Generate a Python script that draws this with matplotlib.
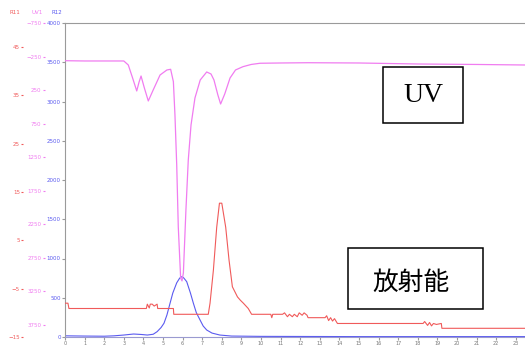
import matplotlib.pyplot as plt
from matplotlib.patches import Rectangle

# UV1 trace (magenta axis, inverted)
uv_t = [0, 1, 2, 3.0, 3.23, 3.45, 3.66, 3.78, 3.88, 4.05, 4.25, 4.5, 4.85, 5.2, 5.39,
        5.53, 5.61, 5.70, 5.78, 5.9, 5.97, 6.04, 6.17, 6.29, 6.43, 6.63, 6.9, 7.23,
        7.45, 7.6, 7.8, 7.94, 8.15, 8.42, 8.7, 9.08, 9.5, 9.95, 11, 12.4, 15, 18, 21, 23.5]
uv_v = [-188, -184, -184, -184, -124, 70, 263, 129, 40, 219, 412, 248, 25, -50, -60,
        125, 621, 1366, 2290, 3050, 3094, 2975, 2036, 1291, 770, 368, 99, -20,
        10, 99, 323, 457, 308, 70, -50, -99, -132, -150, -154, -158, -154, -139, -132, -124]

# R12 trace (blue axis)
r12_t = [0, 1, 2, 2.5, 3.0, 3.5, 3.9, 4.2, 4.5, 4.7, 4.9, 5.05, 5.2, 5.36, 5.5, 5.7,
         5.85, 5.95, 6.05, 6.21, 6.4, 6.55, 6.7, 6.89, 7.05, 7.23, 7.5, 7.9, 8.5, 10, 15, 23.5]
r12_v = [15, 12, 10, 15, 25, 38, 32, 25, 35, 68, 120, 175, 280, 430, 560, 690,
         750, 768, 755, 705, 560, 430, 310, 217, 140, 89, 50, 25, 12, 8, 5, 5]

# R11 trace (red axis, radioactivity)
r11_t = [0, 0.15, 0.2, 4.15, 4.2, 4.3, 4.35, 4.45, 4.55, 4.7, 4.73, 5.53, 5.55, 7.31,
         7.4, 7.57, 7.74, 7.88, 8.0, 8.2, 8.37, 8.54, 8.8, 8.95, 9.1, 9.35, 9.52, 10.5,
         10.55, 10.6, 11.1, 11.2, 11.35, 11.45, 11.6, 11.7, 11.85, 11.95, 12.1, 12.2,
         12.35, 12.4, 13.27, 13.35, 13.45, 13.55, 13.65, 13.75, 13.9, 18.27, 18.35,
         18.5, 18.6, 18.7, 18.8, 18.95, 19.2, 19.23, 23.5]
r11_v = [-8.0, -8.0, -9.1, -9.1, -8.2, -9.0, -8.2, -8.2, -8.6, -8.2, -9.1, -9.1, -10.3, -10.3,
         -8.0, -1.2, 7.7, 12.7, 12.7, 7.7, 0.9, -4.6, -6.7, -7.4, -8.0, -9.1, -10.3, -10.3,
         -11.0, -10.3, -10.3, -10.0, -10.8, -10.3, -10.8, -10.3, -10.8, -10.0, -10.5, -10.0,
         -10.5, -11.0, -11.0, -10.6, -11.6, -11.0, -11.7, -11.2, -12.2, -12.2, -11.8,
         -12.6, -12.0, -12.7, -12.2, -12.4, -12.2, -13.2, -13.2]

x_ticks = list(range(0, 24))
r12_ticks = list(range(0, 4001, 500))
uv_ticks = list(range(-750, 3751, 500))
r11_ticks = [-15, -5, 5, 15, 25, 35, 45]

RED = "#f05a5a"
MAG = "#f07cf0"
BLUE = "#5a5af0"
GRAY = "#9a9a9a"

fig = plt.figure(figsize=(5.25, 3.49), dpi=100)
ax = fig.add_axes([65 / 525, 1 - 337 / 349, 1 - 65 / 525, 314 / 349])

ax_uv = ax.twinx()
ax_red = ax.twinx()

ax.plot(r12_t, r12_v, color=BLUE, lw=0.8)
ax_red.plot(r11_t, r11_v, color=RED, lw=0.8)
ax_uv.plot(uv_t, uv_v, color=MAG, lw=0.9)

ax.set_xlim(0, 23.47)
ax.set_ylim(0, 4000)
ax_uv.set_ylim(3930, -750)
ax_red.set_ylim(-15, 50)

ax.set_xticks(x_ticks)
ax.set_yticks(r12_ticks)
ax_uv.set_yticks(uv_ticks)
ax_red.set_yticks(r11_ticks)

ax.tick_params(axis="x", labelsize=3.5, labelcolor="#777777", color=GRAY, length=2, pad=1)
ax.tick_params(axis="y", labelsize=4, labelcolor=BLUE, color=GRAY, length=2, pad=1)

for tax, col, off in [(ax_uv, MAG, 14.5), (ax_red, RED, 30)]:
    tax.yaxis.set_ticks_position("left")
    tax.spines["left"].set_position(("outward", off))
    for s in tax.spines.values():
        s.set_visible(False)
    tax.tick_params(axis="y", labelsize=4, labelcolor=col, color=col, length=1.5, pad=1)

ax.spines["left"].set_color(GRAY)
ax.spines["top"].set_color(GRAY)
ax.spines["bottom"].set_color("#9a9ad0")
ax.spines["right"].set_visible(False)

fig.text(15 / 525, 1 - 13 / 349, "R11", color=RED, fontsize=4, ha="center", va="center")
fig.text(37 / 525, 1 - 13 / 349, "UV1", color=MAG, fontsize=4, ha="center", va="center")
fig.text(57 / 525, 1 - 13 / 349, "R12", color=BLUE, fontsize=4, ha="center", va="center")

# label boxes
fig.add_artist(Rectangle((383 / 525, 1 - 123 / 349), 80 / 525, 56 / 349,
                         transform=fig.transFigure, fill=True, facecolor="white",
                         edgecolor="black", lw=1.1))
fig.text(423 / 525, 1 - 95 / 349, "UV", fontsize=20, family="Liberation Serif",
         ha="center", va="center")
fig.add_artist(Rectangle((348 / 525, 1 - 309 / 349), 135 / 525, 61 / 349,
                         transform=fig.transFigure, fill=True, facecolor="white",
                         edgecolor="black", lw=1.1))
fig.text(411 / 525, 1 - 283 / 349, "放射能", fontsize=18.5,
         family=["Noto Sans CJK JP", "DejaVu Sans"], ha="center", va="center")

fig.savefig("out.png", dpi=100)
